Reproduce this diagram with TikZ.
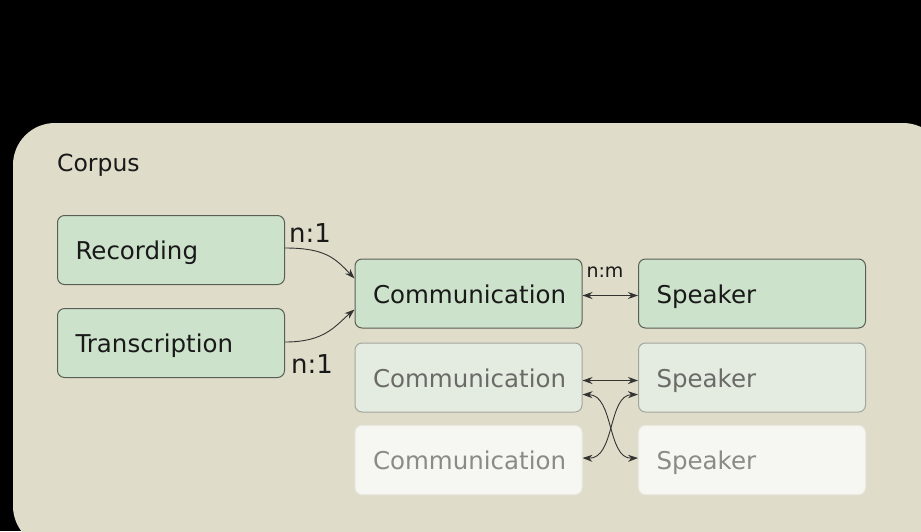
\documentclass[tikz,border=0pt]{standalone}
\usepackage{fontspec}
\setmainfont{DejaVu Sans}
\usetikzlibrary{arrows.meta}
\definecolor{corpusbg}{HTML}{DFDCC9}
\definecolor{gA}{HTML}{CDE2CB}
\definecolor{gAb}{HTML}{5A5F55}
\definecolor{gB}{HTML}{E4ECE2}
\definecolor{gBb}{HTML}{A3A69C}
\definecolor{gBt}{HTML}{6A6A66}
\definecolor{gC}{HTML}{F6F7F2}
\definecolor{gCb}{HTML}{E9EAE2}
\definecolor{gCt}{HTML}{8A8A86}
\tikzset{
  box/.style={rectangle, rounded corners=7pt, minimum width=227pt, minimum height=69pt,
    text width=191pt, align=left, inner xsep=18pt, inner ysep=0pt,
    text height=22pt, text depth=3pt,
    font=\fontsize{24.5}{28}\selectfont, line width=1pt},
  boxA/.style={box, fill=gA, draw=gAb, text=black!90},
  boxB/.style={box, fill=gB, draw=gBb, text=gBt},
  boxC/.style={box, fill=gC, draw=gCb, text=gCt},
  arr/.style={line width=0.9pt, draw=black!80, -{Stealth[length=10pt,width=7pt]}},
  darr/.style={line width=0.9pt, draw=black!80, {Stealth[length=10pt,width=7pt]}-{Stealth[length=10pt,width=7pt]}},
  lbl/.style={inner sep=0pt, text=black!90}
}
\begin{document}
\begin{tikzpicture}[x=1pt,y=-1pt]
\useasboundingbox (0,0) rectangle (921,531);
\fill[black] (0,0) rectangle (921,531);
\begin{scope}
\clip (0,0) rectangle (921,531);
\fill[corpusbg, rounded corners=42pt] (13,123) rectangle (945,548);
\end{scope}
\node[lbl, anchor=west, font=\fontsize{23.5}{27}\selectfont] (corpus) at (57,165) {Corpus};

\node[boxA] (rec) at (171,250) {Recording};
\node[boxA] (tra) at (171,343) {Transcription};
\node[boxA] (comm) at (468.5,293.5) {Communication};
\node[boxA] (spk) at (752,293.5) {Speaker};
\node[boxB] (comm2) at (468.5,377.5) {Communication};
\node[boxB] (spk2) at (752,377.5) {Speaker};
\node[boxC] (comm3) at (468.5,460) {Communication};
\node[boxC] (spk3) at (752,460) {Speaker};

\node[lbl, font=\fontsize{26}{30}\selectfont] (l1) at (310,233) {n:1};
\node[lbl, font=\fontsize{26}{30}\selectfont] (l2) at (312,364) {n:1};
\node[lbl, font=\fontsize{19}{23}\selectfont] (l3) at (605,272) {n:m};

\draw[arr] ([yshift=2pt]rec.east) .. controls (325,248) and (335,258) .. ([yshift=15pt]comm.west);
\draw[arr] ([yshift=1pt]tra.east) .. controls (325,342) and (335,326) .. ([yshift=-16pt]comm.west);
\draw[darr] ([yshift=-2pt]comm.east) -- ([yshift=-2pt]spk.west);
\draw[darr] ([yshift=-3pt]comm2.east) -- ([yshift=-3pt]spk2.west);
\draw[darr] ([yshift=-17pt]comm2.east) .. controls (614,395) and (607,459) .. ([yshift=2pt]spk3.west);
\draw[darr] ([yshift=-17pt]spk2.west) .. controls (608,395) and (615,459) .. ([yshift=2pt]comm3.east);
\end{tikzpicture}
\end{document}
